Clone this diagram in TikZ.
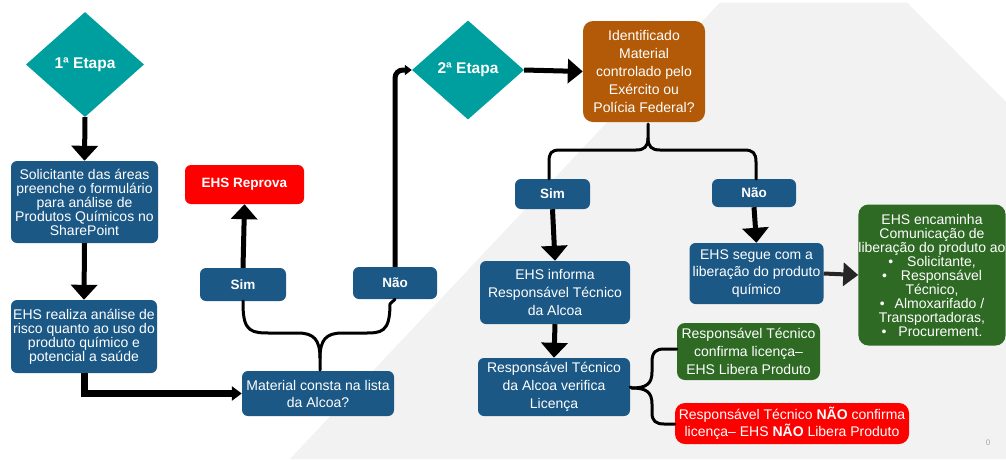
\documentclass[tikz,border=0pt]{standalone}
\usepackage{fontspec}
\setmainfont{Liberation Sans}
\usetikzlibrary{arrows.meta,shapes.geometric}
\definecolor{teal1}{HTML}{009F9F}
\definecolor{blue1}{HTML}{1B5886}
\definecolor{brown1}{HTML}{B25A08}
\definecolor{red1}{HTML}{FF0000}
\definecolor{green1}{HTML}{2E6A24}
\definecolor{bg1}{HTML}{F2F2F2}
\begin{document}
\begin{tikzpicture}[x=1pt,y=-1pt,
  box/.style={rounded corners=6pt, fill=blue1, text=white, align=center, inner sep=0pt, font=\fontsize{14}{18}\selectfont},
  tight/.style={font=\fontsize{14}{14}\selectfont},
  lab/.style={box, font=\bfseries\fontsize{13.5}{16}\selectfont},
  etapa/.style={diamond, fill=teal1, text=white, inner sep=0pt, font=\bfseries\fontsize{15.5}{17}\selectfont},
  arr/.style={line width=5pt, -{Triangle[width=26pt,length=15pt]}},
  brace/.style={line width=3pt, line cap=round}]
\useasboundingbox (0,0) rectangle (1006,459);
\fill[white] (0,0) rectangle (1006,459);
\fill[bg1] (720,2.5) -- (907,2.5) -- (1006,102) -- (1006,459) -- (290,459) -- cycle;

% nodes
\node[etapa, minimum width=118pt, minimum height=105pt] (dia1) at (85,64.5) {1ª Etapa};
\node[box, tight, minimum width=147pt, minimum height=82pt] (solicit) at (84.5,202) {Solicitante das áreas\\preenche o formulário\\para análise de\\Produtos Químicos no\\SharePoint};
\node[box, tight, minimum width=146pt, minimum height=73pt] (realiza) at (84,336.5) {EHS realiza análise de\\risco quanto ao uso do\\produto químico e\\potencial a saúde};
\node[box, font=\fontsize{14}{17}\selectfont, minimum width=152pt, minimum height=45pt] (material) at (318,393.5) {Material consta na lista\\da Alcoa?};
\node[lab, minimum width=86pt, minimum height=33pt] (sim1) at (243,284.5) {Sim};
\node[lab, minimum width=84pt, minimum height=32pt] (nao1) at (395,283) {Não};
\node[lab, fill=red1, minimum width=119pt, minimum height=39pt] (reprova) at (244.5,184.5) {EHS Reprova};
\node[etapa, minimum width=112pt, minimum height=99pt] (dia2) at (468,70) {2ª Etapa};
\node[box, fill=brown1, rounded corners=10pt, minimum width=122pt, minimum height=101pt] (brown) at (644,71.5) {Identificado\\Material\\controlado pelo\\Exército ou\\Polícia Federal?};
\node[lab, minimum width=75pt, minimum height=30pt] (sim2) at (552.5,194) {Sim};
\node[lab, minimum width=84pt, minimum height=28pt] (nao2) at (754,193) {Não};
\node[box, minimum width=150pt, minimum height=63pt] (informa) at (555,292.5) {EHS informa\\Responsável Técnico\\da Alcoa};
\node[box, font=\fontsize{14}{17.5}\selectfont, minimum width=134pt, minimum height=61pt] (segue) at (756.5,273.5) {EHS segue com a\\liberação do produto\\químico};
\node[box, tight, fill=green1, rounded corners=10pt, minimum width=146pt, minimum height=141pt] (encam) at (932,275) {EHS encaminha\\Comunicação de\\liberação do produto ao\\•\hspace{14pt}Solicitante,\\•\hspace{14pt}Responsável\\Técnico,\\•\hspace{10pt}Almoxarifado /\\Transportadoras,\\•\hspace{12pt}Procurement.};
\node[box, minimum width=152pt, minimum height=58pt] (verif) at (554,387) {Responsável Técnico\\da Alcoa verifica\\Licença};
\node[box, fill=green1, rounded corners=8pt, minimum width=143pt, minimum height=57pt] (confirma) at (748.5,351.5) {Responsável Técnico\\confirma licença–\\EHS Libera Produto};
\node[box, fill=red1, rounded corners=10pt, font=\fontsize{14}{17}\selectfont, minimum width=234pt, minimum height=41pt] (nconf) at (792,423.5) {Responsável Técnico \textbf{NÃO} confirma\\licença– EHS \textbf{NÃO} Libera Produto};
\node[text=black!35, font=\fontsize{8}{8}\selectfont, inner sep=0pt] (pg) at (988,443) {0};

% arrows
\draw[arr] (dia1.south) -- (solicit.north);
\draw[arr] (solicit.south) -- (realiza.north);
\draw[line width=7pt, -{Triangle[width=14pt,length=10pt]}] (realiza.south) |- (material.west);
\draw[arr] (sim1.north) -- (reprova.south);
\draw[line width=5pt, rounded corners=8pt, -{Triangle[width=10pt,length=7pt]}] (nao1.north) |- (dia2.west);
\draw[line width=5pt, -{Triangle[width=24pt,length=15pt]}] (dia2.east) -- (brown.west);
\draw[arr] (sim2.south) -- (informa.north);
\draw[arr] (nao2.south) -- (segue.north);
\draw[line width=4pt, black!85, -{Triangle[width=23pt,length=15pt]}] (segue.east) -- (encam.west);
\draw[arr] (informa.south) -- (verif.north);

% braces
\coordinate (c1) at (320,370);
\draw[brace] (sim1.south) -- (243,304) .. controls (243,333) and (252,333) .. (272,333) -- (298,333) .. controls (314,333) and (320,340) .. (320,358) -- (c1);
\draw[brace] (nao1.south) -- (390,304) .. controls (390,333) and (381,333) .. (364,333) -- (342,333) .. controls (326,333) and (320,340) .. (320,358);
\coordinate (c2) at (648,124);
\draw[brace] (c2) -- (648,138) .. controls (648,147) and (644,150) .. (636,150) -- (560,150) .. controls (551,150) and (549,153) .. (549,162) -- (sim2.north -| 549,0);
\draw[brace] (648,138) .. controls (648,147) and (652,150) .. (660,150) -- (744,150) .. controls (753,150) and (756,153) .. (756,162) -- (756,179);
\draw[brace] (verif.east) -- (632,388) .. controls (646,388) and (652,384) .. (652,372) -- (652,362) .. controls (652,352) and (656,349) .. (664,349) -- (confirma.west |- 0,349);
\draw[brace] (632,388) .. controls (646,388) and (652,392) .. (652,404) -- (652,413) .. controls (652,421) and (656,424) .. (664,424) -- (nconf.west |- 0,424);
\end{tikzpicture}
\end{document}
